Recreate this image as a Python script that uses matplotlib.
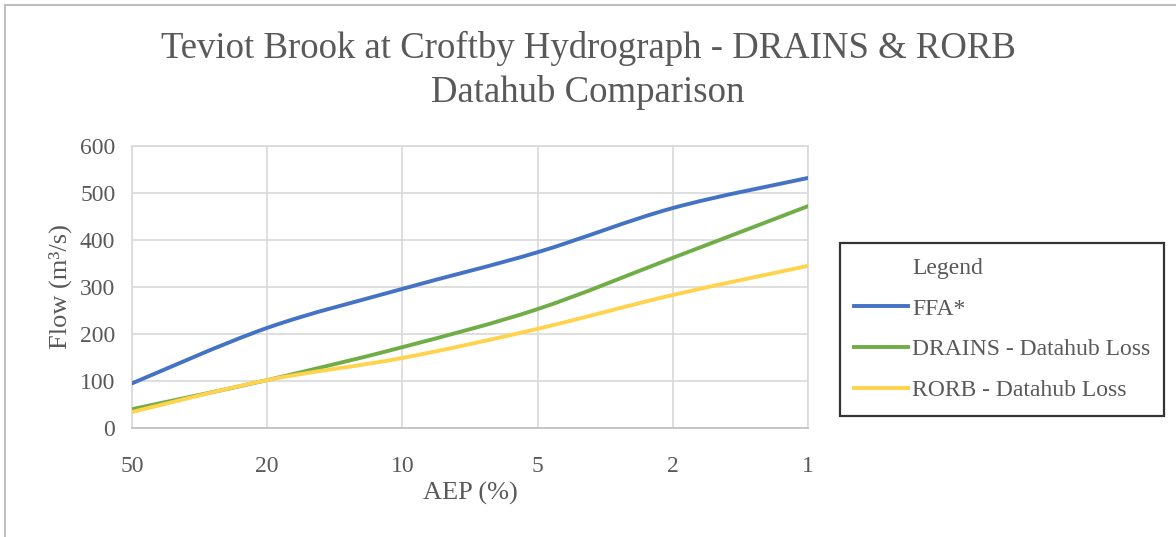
import numpy as np
import matplotlib.pyplot as plt
from matplotlib.path import Path
from matplotlib.patches import PathPatch
from matplotlib.lines import Line2D

aep = ['50', '20', '10', '5', '2', '1']
ffa = [95, 213, 296, 374, 468, 532]
drains = [40, 102, 172, 253, 362, 472]
rorb = [34, 102, 149, 211, 283, 345]

plt.rcParams['font.family'] = ['Liberation Serif', 'DejaVu Serif']
grey = '#595959'


def smooth_path(xs, ys):
    # bezier smoothing like excel's "smoothed line"
    pts = np.column_stack([xs, ys]).astype(float)
    n = len(pts)
    verts = [pts[0]]
    codes = [Path.MOVETO]
    for i in range(n - 1):
        p0 = pts[max(i - 1, 0)]
        p1 = pts[i]
        p2 = pts[i + 1]
        p3 = pts[min(i + 2, n - 1)]
        c1 = p1 + (p2 - p0) / 6.0
        c2 = p2 - (p3 - p1) / 6.0
        verts += [c1, c2, p2]
        codes += [Path.CURVE4] * 3
    return Path(verts, codes)


fig = plt.figure(figsize=(11.76, 5.37), dpi=100)
ax = fig.add_axes([132 / 1176, 1 - 428 / 537, (808 - 132) / 1176, (428 - 146) / 537])

x = np.arange(len(aep))
series = [(ffa, '#4472C4', 'FFA*'),
          (drains, '#70AD47', 'DRAINS - Datahub Loss'),
          (rorb, '#FFD34D', 'RORB - Datahub Loss')]
handles = [Line2D([], [], color='none', label='Legend')]
for vals, col, lab in series:
    ax.add_patch(PathPatch(smooth_path(x, vals), facecolor='none', edgecolor=col,
                           lw=2.8, capstyle='round', zorder=3))
    handles.append(Line2D([], [], color=col, lw=2.8, label=lab))

ax.set_xlim(0, len(aep) - 1)
ax.set_ylim(0, 600)
ax.set_xticks(x)
ax.set_xticklabels(aep)
ax.set_yticks(range(0, 601, 100))
ax.grid(True, color='#D9D9D9', lw=1.2)
ax.set_axisbelow(True)
for s in ax.spines.values():
    s.set_color('#D9D9D9')
    s.set_linewidth(1.2)
ax.spines['bottom'].set_color('#BFBFBF')
ax.tick_params(length=0, labelsize=17, colors=grey)
ax.tick_params(axis='y', pad=12)
ax.tick_params(axis='x', pad=20)
ax.set_ylabel('Flow (m³/s)', fontsize=19, color=grey, labelpad=6)
ax.set_xlabel('AEP (%)', fontsize=19, color=grey, labelpad=4)

fig.text(0.5, 1 - 48 / 537, 'Teviot Brook at Croftby Hydrograph - DRAINS & RORB',
         ha='center', va='center', fontsize=26.5, color=grey)
fig.text(0.5, 1 - 93 / 537, 'Datahub Comparison',
         ha='center', va='center', fontsize=26.5, color=grey)

leg = fig.legend(handles=handles, loc='upper left',
                 bbox_to_anchor=(840 / 1176, 1 - 243 / 537),
                 frameon=True, fancybox=False, fontsize=17, handlelength=2.3,
                 handletextpad=0.15, labelspacing=0.82, borderpad=0.6,
                 borderaxespad=0)
for t in leg.get_texts():
    t.set_color(grey)
leg.get_frame().set_edgecolor('black')
leg.get_frame().set_linewidth(1.6)

# outer border lines at top and left
fig.add_artist(Line2D([5 / 1176, 1], [1 - 5 / 537, 1 - 5 / 537], color='#BFBFBF', lw=1.5))
fig.add_artist(Line2D([5 / 1176, 5 / 1176], [0, 1 - 5 / 537], color='#BFBFBF', lw=1.5))

fig.savefig('out.png', dpi=100, facecolor='white')
